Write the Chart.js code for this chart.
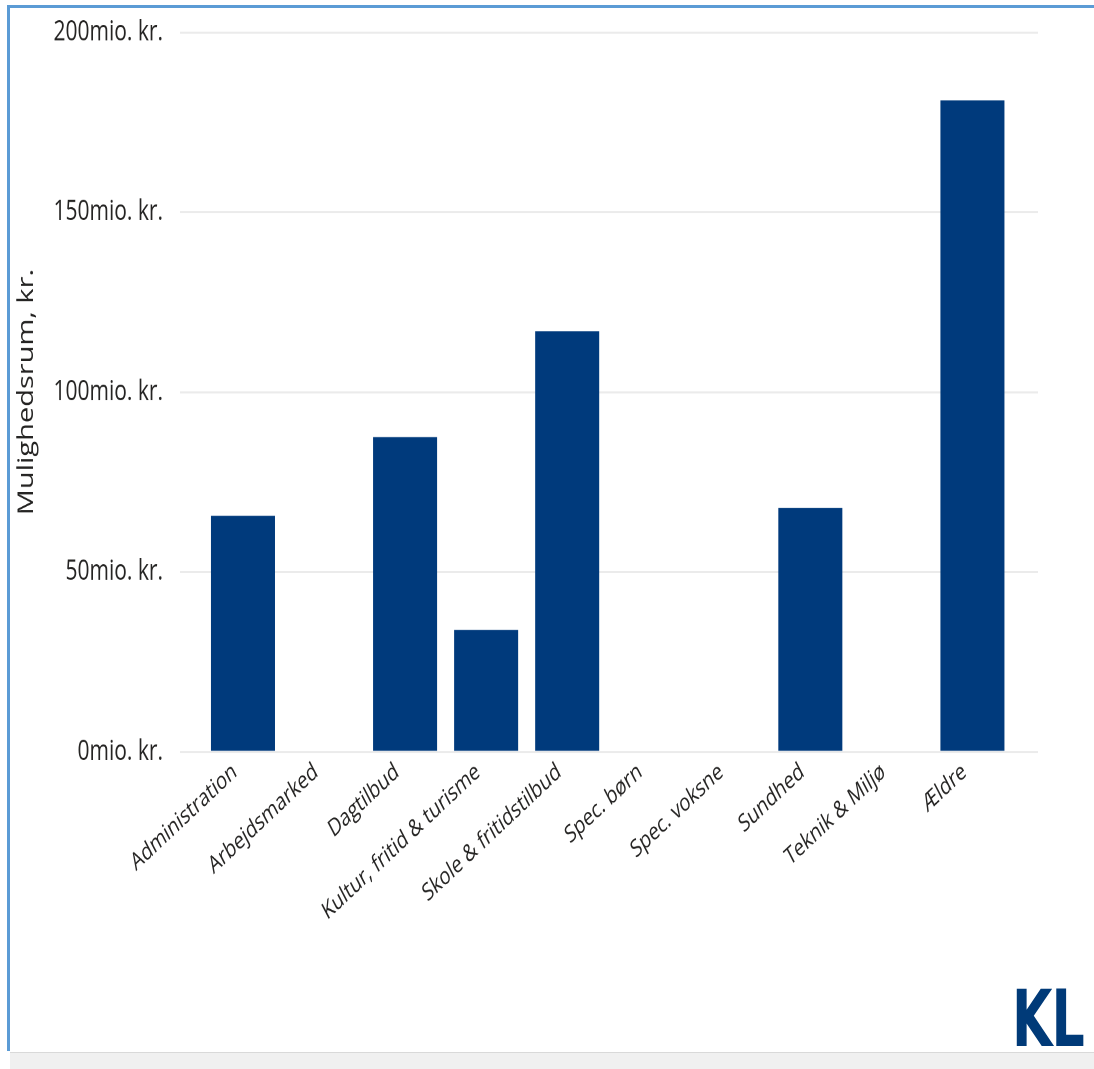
<!DOCTYPE html>
<html>
<head>
<meta charset="utf-8">
<script src="https://cdn.jsdelivr.net/npm/chart.js@4"></script>
<style>
  html, body { margin: 0; padding: 0; background: #fff; }
  body { width: 1094px; height: 1069px; overflow: hidden; position: relative; font-family: "Open Sans", sans-serif; }
  .topline { position: absolute; left: 7px; top: 5px; width: 1087px; height: 3px; background: #5b9bd5; }
  .leftline { position: absolute; left: 7px; top: 5px; width: 3px; height: 1046px; background: #5b9bd5; }
  .bottombar { position: absolute; left: 10px; top: 1052px; right: 0; bottom: 0; background: #f0f0f0; border-top: 1px solid #d9d9d9; }
  /* the reference is stretched vertically, so the chart is drawn flat and scaled */
  #wrap { position: absolute; left: 0; top: 8px; width: 1094px; height: 772px; transform: scaleY(1.35); transform-origin: 0 0; }
  #logo { position: absolute; left: 1012px; top: 720px; font-family: "Liberation Sans Narrow", "DejaVu Sans Condensed", sans-serif; font-weight: bold; font-size: 58px; line-height: 1; color: #003a78; letter-spacing: -1px; }
</style>
</head>
<body>
<div class="topline"></div>
<div class="leftline"></div>
<div class="bottombar"></div>
<div id="wrap">
  <canvas id="chartMuligheder"></canvas>
  <div id="logo">KL</div>
</div>
<script>
var categories = ["Administration", "Arbejdsmarked", "Dagtilbud", "Kultur, fritid & turisme", "Skole & fritidstilbud",
    "Spec. børn", "Spec. voksne", "Sundhed", "Teknik & Miljø", "Ældre"];
var values = [65.6, null, 87.5, 33.9, 116.9, null, null, 67.8, null, 181.1];
var yTicks = [0, 50, 100, 150, 200];
var yTitle = "Mulighedsrum, kr.";

function chartMuligheder() {
    var points = categories.map(function(c, i) {
        return { x: i, y: values[i] };
    });
    var ctx = document.querySelector('#chartMuligheder').getContext('2d');
    var chart = new Chart(ctx, {
        type: 'bar',
        data: {
            datasets: [{
                label: yTitle,
                backgroundColor: "#003a7c",
                borderWidth: 0,
                categoryPercentage: 1,
                barPercentage: 0.79,
                data: points
            }]
        },
        options: {
            responsive: true,
            maintainAspectRatio: false,
            animation: false,
            devicePixelRatio: 2,
            layout: { padding: { top: 18, right: 56, bottom: 0, left: 0 } },
            plugins: { legend: { display: false }, tooltip: { enabled: false } },
            scales: {
                x: {
                    type: 'linear',
                    offset: false,
                    min: -0.777,
                    max: 9.809,
                    grid: { display: false, drawTicks: false },
                    border: { display: false },
                    afterBuildTicks: function(scale) {
                        scale.ticks = categories.map(function(c, i) { return { value: i }; });
                    },
                    afterFit: function(scale) { scale.height = 221; },
                    ticks: {
                        autoSkip: false,
                        minRotation: 35,
                        maxRotation: 35,
                        padding: 4,
                        labelOffset: -8,
                        color: "#252423",
                        font: { family: "Open Sans", size: 18 },
                        callback: function(v) { return categories[v]; }
                    }
                },
                y: {
                    min: 0,
                    max: 200,
                    afterBuildTicks: function(scale) {
                        scale.ticks = yTicks.map(function(v) { return { value: v }; });
                    },
                    afterFit: function(scale) {
                        scale.width = 180;
                        // top/bottom label room is given by layout padding instead
                        scale.paddingTop = 0;
                        scale.paddingBottom = 0;
                    },
                    grid: { color: "#ebebeb", lineWidth: 1.5, drawTicks: false },
                    border: { display: false },
                    ticks: {
                        padding: 17,
                        color: "#252423",
                        font: { family: "Open Sans", size: 21 },
                        callback: function(v) { return v + "mio. kr."; }
                    },
                    title: {
                        display: true,
                        text: yTitle,
                        color: "#252423",
                        padding: { top: 14, bottom: 0 },
                        font: { family: "Open Sans", size: 21.5 }
                    }
                }
            }
        }
    });
    return chart;
}
chartMuligheder();
</script>
</body>
</html>
